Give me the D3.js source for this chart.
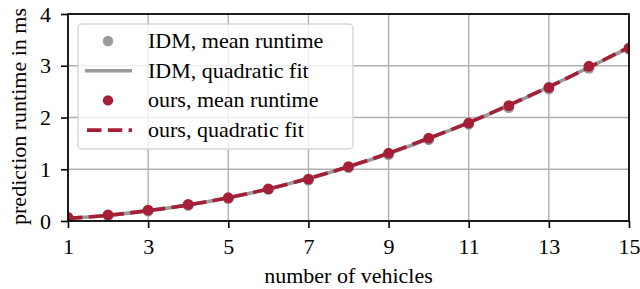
<!DOCTYPE html>
<html>
<head>
<meta charset="utf-8">
<script src="https://cdn.jsdelivr.net/npm/d3@7"></script>
<style>
  body { margin: 0; background: #fff; }
</style>
</head>
<body>
<div id="chart-area"></div>
<script>
// data
const vehicles = [1, 2, 3, 4, 5, 6, 7, 8, 9, 10, 11, 12, 13, 14, 15];
const idmMean = [0.05, 0.10, 0.19, 0.30, 0.43, 0.61, 0.79, 1.03, 1.28, 1.57, 1.87, 2.19, 2.55, 2.95, 3.32];
const idmFit = [0.05, 0.11, 0.20, 0.31, 0.45, 0.62, 0.82, 1.05, 1.30, 1.59, 1.90, 2.23, 2.59, 2.97, 3.35];
const oursMean = [0.07, 0.12, 0.21, 0.32, 0.45, 0.62, 0.81, 1.05, 1.31, 1.60, 1.89, 2.23, 2.58, 2.99, 3.34];
const oursFit = [0.05, 0.11, 0.20, 0.31, 0.45, 0.62, 0.82, 1.05, 1.31, 1.60, 1.90, 2.24, 2.59, 2.97, 3.36];
const xTicks = [1, 3, 5, 7, 9, 11, 13, 15];
const yTicks = [0, 1, 2, 3, 4];
const legendLabels = ["IDM, mean runtime", "IDM, quadratic fit", "ours, mean runtime", "ours, quadratic fit"];

const WIDTH = 640, HEIGHT = 289;
const MARGIN = { LEFT: 68, RIGHT: 11, TOP: 14, BOTTOM: 68 };
const W = WIDTH - MARGIN.LEFT - MARGIN.RIGHT;
const H = HEIGHT - MARGIN.TOP - MARGIN.BOTTOM;
const RED = "#a51f37", GRAY = "#9a9a9a";
const FONT = "Liberation Serif";
const FS = 22;
const DASH = "14.5,6.3";

const svg = d3.select("#chart-area").append("svg")
  .attr("width", WIDTH).attr("height", HEIGHT);

const g = svg.append("g").attr("transform", `translate(${MARGIN.LEFT}, ${MARGIN.TOP})`);

const x = d3.scaleLinear().domain([1, 15]).range([0, W]);
const y = d3.scaleLinear().domain([0, 4]).range([H, 0]);

// grid
g.append("g").selectAll("line").data(xTicks).enter().append("line")
  .attr("x1", d => x(d)).attr("x2", d => x(d)).attr("y1", 0).attr("y2", H)
  .attr("stroke", "#b0b0b0").attr("stroke-width", 1.4);
g.append("g").selectAll("line").data(yTicks).enter().append("line")
  .attr("x1", 0).attr("x2", W).attr("y1", d => y(d)).attr("y2", d => y(d))
  .attr("stroke", "#b0b0b0").attr("stroke-width", 1.4);

// marks, clipped to the axes like the original
svg.append("clipPath").attr("id", "clip").append("rect")
  .attr("x", 0).attr("y", 0).attr("width", W).attr("height", H);
const plot = g.append("g").attr("clip-path", "url(#clip)");

const line = d3.line().curve(d3.curveMonotoneX).x((d, i) => x(vehicles[i])).y(d => y(d));

plot.append("g").selectAll("circle").data(idmMean).enter().append("circle")
  .attr("cx", (d, i) => x(vehicles[i])).attr("cy", d => y(d)).attr("r", 5.4).attr("fill", GRAY);
plot.append("path").datum(idmFit).attr("d", line)
  .attr("fill", "none").attr("stroke", GRAY).attr("stroke-width", 3.6);
plot.append("g").selectAll("circle").data(oursMean).enter().append("circle")
  .attr("cx", (d, i) => x(vehicles[i])).attr("cy", d => y(d)).attr("r", 5.4).attr("fill", RED);
plot.append("path").datum(oursFit).attr("d", line)
  .attr("fill", "none").attr("stroke", RED).attr("stroke-width", 3.6)
  .attr("stroke-dasharray", DASH);

// axes
const xAxis = g.append("g").attr("transform", `translate(0, ${H})`)
  .call(d3.axisBottom(x).tickValues(xTicks).tickFormat(d3.format("d")).tickSize(7).tickPadding(10));
const yAxis = g.append("g")
  .call(d3.axisLeft(y).tickValues(yTicks).tickFormat(d3.format("d")).tickSize(7).tickPadding(10));
[xAxis, yAxis].forEach(a => {
  a.attr("font-family", FONT).attr("font-size", FS);
  a.select(".domain").remove();
  a.selectAll("line").attr("stroke", "#000").attr("stroke-width", 1.6);
  a.selectAll("text").attr("fill", "#000");
});
g.append("rect").attr("x", 0).attr("y", 0).attr("width", W).attr("height", H)
  .attr("fill", "none").attr("stroke", "#000").attr("stroke-width", 1.7);

// axis labels
g.append("text").attr("x", W / 2).attr("y", H + 62).attr("text-anchor", "middle")
  .attr("font-family", FONT).attr("font-size", FS).text("number of vehicles");
g.append("text").attr("transform", "rotate(-90)").attr("x", -H / 2 + 1).attr("y", -42)
  .attr("text-anchor", "middle").attr("font-family", FONT).attr("font-size", FS)
  .text("prediction runtime in ms");

// legend
const leg = g.append("g").attr("transform", "translate(10, 10)");
leg.append("rect").attr("x", 0).attr("y", 0).attr("width", 275).attr("height", 125)
  .attr("rx", 4).attr("fill", "#fff").attr("fill-opacity", 0.8)
  .attr("stroke", "#d6d6d6").attr("stroke-width", 1.4);
const rows = leg.selectAll("g.row").data(legendLabels).enter().append("g")
  .attr("transform", (d, i) => `translate(0, ${17 + i * 29.7})`);
rows.append("text").attr("x", 70).attr("y", 7).attr("font-family", FONT)
  .attr("font-size", FS).text(d => d);
rows.each(function (d, i) {
  const r = d3.select(this);
  if (i === 0 || i === 2) {
    r.append("circle").attr("cx", 30).attr("cy", 0).attr("r", 5.2).attr("fill", i === 0 ? GRAY : RED);
  } else {
    r.append("line").attr("x1", i === 3 ? 9 : 7).attr("x2", 54).attr("y1", 0).attr("y2", 0)
      .attr("stroke", i === 1 ? GRAY : RED).attr("stroke-width", 3.6)
      .attr("stroke-dasharray", i === 3 ? DASH : null);
  }
});
</script>
</body>
</html>
